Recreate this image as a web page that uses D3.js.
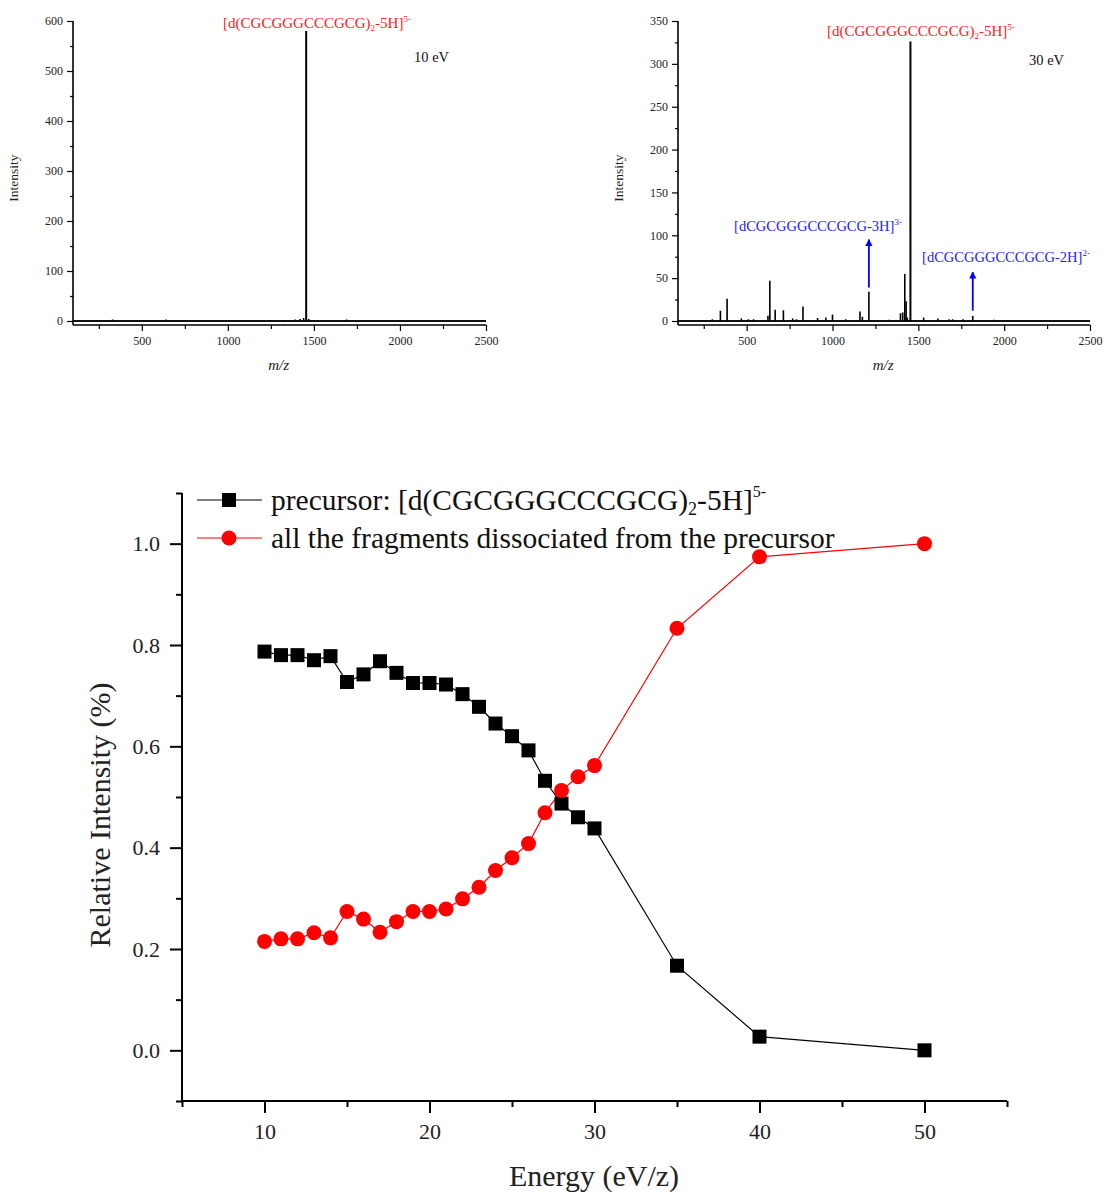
<!DOCTYPE html>
<html><head><meta charset="utf-8">
<script src="https://cdn.jsdelivr.net/npm/d3@7"></script>
<style>
body{margin:0;background:#fff;}
svg{display:block;font-family:"Liberation Serif","Times New Roman",serif;}
</style></head>
<body><svg id="c" width="1104" height="1193"></svg>
<script>
// ---------- data ----------
// 10 eV spectrum: [m/z, intensity]
const spec10Mz  = [330, 560, 610, 640, 700, 1250, 1330, 1390, 1420, 1440, 1455, 1470, 1500, 1690, 2000];
const spec10Int = [3, 1.5, 2, 3, 1.5, 1.5, 2, 3, 4, 6, 580, 4, 2, 3, 1];
// 30 eV spectrum
const spec30Mz  = [300, 347, 386, 469, 510, 540, 624, 635, 666, 714, 768, 790, 828, 913, 961, 1000, 1077, 1160, 1174, 1212, 1330, 1396, 1409, 1421, 1429, 1436, 1454, 1531, 1614, 1680, 1700, 1760, 1817, 1940];
const spec30Int = [2, 12, 26, 3, 2, 2, 6, 47, 13, 12.5, 3, 2, 17, 3.5, 4, 7.5, 2, 11, 5, 34, 1.5, 9, 10, 55, 23, 4, 326, 4, 3, 2, 2, 2, 6, 1.5];
// annotation arrows on 30 eV spectrum: m/z, from intensity, to intensity
const arrowMz   = [1212, 1817];
const arrowFrom = [39, 12];
const arrowTo   = [95, 57];

// energy-resolved curve
const energy    = [10,11,12,13,14,15,16,17,18,19,20,21,22,23,24,25,26,27,28,29,30,35,40,50];
const precursor = [0.787,0.780,0.780,0.770,0.778,0.727,0.742,0.768,0.745,0.725,0.725,0.722,0.703,0.678,0.645,0.620,0.592,0.532,0.487,0.460,0.438,0.167,0.027,0.000];
const fragments = [0.215,0.220,0.220,0.232,0.222,0.274,0.259,0.233,0.254,0.274,0.274,0.279,0.299,0.322,0.355,0.380,0.408,0.469,0.513,0.540,0.562,0.833,0.974,1.000];

const xTicksBig = [10,20,30,40,50];
const xMinorBig = [5,15,25,35,45,55];
const yTicksBig = [0,0.2,0.4,0.6,0.8,1.0];
const yMinorBig = [-0.1,0.1,0.3,0.5,0.7,0.9,1.1];

const mzTicks = [500,1000,1500,2000,2500];
const mzMinor = [250,750,1250,1750,2250];
const int10Ticks = [0,100,200,300,400,500,600];
const int10Minor = [50,150,250,350,450,550];
const int30Ticks = [0,50,100,150,200,250,300,350];
const int30Minor = [25,75,125,175,225,275,325];

const svg = d3.select("#c");
const FONT = "'Liberation Serif','Times New Roman',serif";

function styleAxis(g, fs, sw) {
  g.select(".domain").remove();
  g.selectAll("line").attr("stroke","#000").attr("stroke-width", sw);
  g.selectAll("text").attr("font-family", FONT).attr("font-size", fs).attr("fill","#222");
}

// ---------- spectrum panels ----------
function spectrum(opts) {
  const x = d3.scaleLinear().domain([100, 2500]).range([opts.x0, opts.x1]);
  const y = d3.scaleLinear().domain([opts.yMin, opts.yMax]).range([325, 21]);
  const g = svg.append("g");
  g.append("line").attr("x1", x(100)).attr("x2", x(2500)).attr("y1", y(0)).attr("y2", y(0))
    .attr("stroke","#111").attr("stroke-width",2);
  g.selectAll("line.pk").data(opts.mz).join("line").attr("class","pk")
    .attr("x1", d => x(d)).attr("x2", d => x(d))
    .attr("y1", y(0)).attr("y2", (d,i) => y(opts.int[i]))
    .attr("stroke","#000").attr("stroke-width", (d,i) => opts.int[i] > 100 ? 2 : 1.6);
  const ax = g.append("g").attr("transform",`translate(0,325)`)
    .call(d3.axisBottom(x).tickValues(mzTicks).tickSize(6).tickPadding(5).tickFormat(d3.format("d")));
  styleAxis(ax, 12, 1.2);
  const axm = g.append("g").attr("transform",`translate(0,325)`)
    .call(d3.axisBottom(x).tickValues(mzMinor).tickSize(4).tickFormat(""));
  styleAxis(axm, 12, 1.2);
  const ay = g.append("g").attr("transform",`translate(${opts.x0},0)`)
    .call(d3.axisLeft(y).tickValues(opts.yTicks).tickSize(6).tickPadding(4).tickFormat(d3.format("d")));
  styleAxis(ay, 12, 1.2);
  const aym = g.append("g").attr("transform",`translate(${opts.x0},0)`)
    .call(d3.axisLeft(y).tickValues(opts.yMinor).tickSize(3).tickFormat(""));
  styleAxis(aym, 12, 1.2);
  g.append("line").attr("x1", opts.x0).attr("x2", opts.x0).attr("y1", 21).attr("y2", 325).attr("stroke","#000").attr("stroke-width",1.6);
  g.append("line").attr("x1", opts.x0).attr("x2", opts.x1).attr("y1", 325).attr("y2", 325).attr("stroke","#000").attr("stroke-width",1.6);
  g.append("text").attr("transform",`translate(${opts.x0-55},178) rotate(-90)`)
    .attr("text-anchor","middle").attr("font-family",FONT).attr("font-size",13.5).attr("fill","#222").text("Intensity");
  g.append("text").attr("x", x(1295)).attr("y", 370)
    .attr("text-anchor","middle").attr("font-family",FONT).attr("font-size",15).attr("font-style","italic").attr("fill","#222").text("m/z");
  const t = g.append("text").attr("x", x(opts.labelMz)).attr("y", opts.labelY)
    .attr("text-anchor","middle").attr("font-family",FONT).attr("font-size",15).attr("fill","#ff2020");
  t.append("tspan").text("[d(CGCGGGCCCGCG)");
  t.append("tspan").attr("font-size",9).attr("dy",3).text("2");
  t.append("tspan").attr("dy",-3).text("-5H]");
  t.append("tspan").attr("font-size",9).attr("dy",-6).text("5-");
  g.append("text").attr("x", opts.eVx).attr("y", opts.eVy).attr("font-family",FONT).attr("font-size",14.5).attr("fill","#111").text(opts.eV);
  return {g, x, y};
}

spectrum({x0:73, x1:486, yMin:-8, yMax:600, yTicks:int10Ticks, yMinor:int10Minor,
  mz:spec10Mz, int:spec10Int, labelMz:1518, labelY:28, eV:"10 eV", eVx:414, eVy:62});
const p30 = spectrum({x0:678, x1:1090, yMin:-4.67, yMax:350, yTicks:int30Ticks, yMinor:int30Minor,
  mz:spec30Mz, int:spec30Int, labelMz:1515, labelY:36, eV:"30 eV", eVx:1029, eVy:65});

// arrows and fragment labels
const defs = svg.append("defs");
defs.append("marker").attr("id","ah").attr("viewBox","0 0 10 10").attr("refX",9).attr("refY",5)
  .attr("markerWidth",4).attr("markerHeight",5).attr("orient","auto")
  .append("path").attr("d","M0,0 L10,5 L0,10 z").attr("fill","#0000ff");
p30.g.selectAll("line.arr").data(arrowMz).join("line").attr("class","arr")
  .attr("x1", d => p30.x(d)).attr("x2", d => p30.x(d))
  .attr("y1", (d,i) => p30.y(arrowFrom[i])).attr("y2", (d,i) => p30.y(arrowTo[i]))
  .attr("stroke","#0000ff").attr("stroke-width",1.8).attr("marker-end","url(#ah)");
const fragLabels = [
  {x: 818, y: 231, main: "[dCGCGGGCCCGCG-3H]", sup: "3-"},
  {x: 1006, y: 262, main: "[dCGCGGGCCCGCG-2H]", sup: "2-"}
];
fragLabels.forEach(f => {
  const t = p30.g.append("text").attr("x", f.x).attr("y", f.y).attr("text-anchor","middle")
    .attr("font-family",FONT).attr("font-size",14.5).attr("fill","#2222ff");
  t.append("tspan").text(f.main);
  t.append("tspan").attr("font-size",9).attr("dy",-6).text(f.sup);
});

// ---------- bottom chart ----------
const X = d3.scaleLinear().domain([5,55]).range([182,1007]);
const Y = d3.scaleLinear().domain([-0.1,1.1]).range([1101,493]);
const gb = svg.append("g");

const bx = gb.append("g").attr("transform","translate(0,1101)")
  .call(d3.axisBottom(X).tickValues(xTicksBig).tickSize(12).tickPadding(10).tickFormat(d3.format("d")));
styleAxis(bx, 22, 2);
const bxm = gb.append("g").attr("transform","translate(0,1101)")
  .call(d3.axisBottom(X).tickValues(xMinorBig).tickSize(6).tickFormat(""));
styleAxis(bxm, 22, 2);
const by = gb.append("g").attr("transform","translate(182,0)")
  .call(d3.axisLeft(Y).tickValues(yTicksBig).tickSize(12).tickPadding(10).tickFormat(d3.format(".1f")));
styleAxis(by, 22, 2);
const bym = gb.append("g").attr("transform","translate(182,0)")
  .call(d3.axisLeft(Y).tickValues(yMinorBig).tickSize(6).tickFormat(""));
styleAxis(bym, 22, 2);
gb.append("line").attr("x1",182).attr("x2",182).attr("y1",Y(1.1)).attr("y2",Y(-0.1)).attr("stroke","#000").attr("stroke-width",2);
gb.append("line").attr("x1",X(5)).attr("x2",X(55)).attr("y1",Y(-0.1)).attr("y2",Y(-0.1)).attr("stroke","#000").attr("stroke-width",2);

gb.append("text").attr("transform","translate(110,815) rotate(-90)").attr("text-anchor","middle")
  .attr("font-family",FONT).attr("font-size",30).attr("fill","#222").text("Relative Intensity (%)");
gb.append("text").attr("x",594).attr("y",1186).attr("text-anchor","middle")
  .attr("font-family",FONT).attr("font-size",30).attr("fill","#222").text("Energy (eV/z)");

const line = d3.line().x((d,i) => X(energy[i])).y(d => Y(d));
gb.append("path").attr("d", line(precursor)).attr("fill","none").attr("stroke","#000").attr("stroke-width",1.2);
gb.append("path").attr("d", line(fragments)).attr("fill","none").attr("stroke","#ff0000").attr("stroke-width",1.2);
gb.selectAll("rect.sq").data(precursor).join("rect").attr("class","sq")
  .attr("x",(d,i)=>X(energy[i])-7).attr("y",d=>Y(d)-7).attr("width",14).attr("height",14).attr("fill","#000");
gb.selectAll("circle.ci").data(fragments).join("circle").attr("class","ci")
  .attr("cx",(d,i)=>X(energy[i])).attr("cy",d=>Y(d)).attr("r",7.5).attr("fill","#ff0000");

// legend
const lg = gb.append("g");
lg.append("line").attr("x1",197).attr("x2",262).attr("y1",500).attr("y2",500).attr("stroke","#000").attr("stroke-width",1.2);
lg.append("rect").attr("x",222).attr("y",493).attr("width",14).attr("height",14).attr("fill","#000");
lg.append("line").attr("x1",197).attr("x2",262).attr("y1",538).attr("y2",538).attr("stroke","#ff0000").attr("stroke-width",1.2);
lg.append("circle").attr("cx",229).attr("cy",538).attr("r",7.5).attr("fill","#ff0000");
const lt1 = lg.append("text").attr("x",271).attr("y",510).attr("font-family",FONT).attr("font-size",29.5).attr("fill","#111");
lt1.append("tspan").text("precursor: [d(CGCGGGCCCGCG)");
lt1.append("tspan").attr("font-size",18).attr("dy",5).text("2");
lt1.append("tspan").attr("dy",-5).text("-5H]");
lt1.append("tspan").attr("font-size",16).attr("dy",-13).text("5-");
lg.append("text").attr("x",271).attr("y",548).attr("font-family",FONT).attr("font-size",29.5).attr("fill","#111")
  .text("all the fragments dissociated from the precursor");
</script></body></html>
